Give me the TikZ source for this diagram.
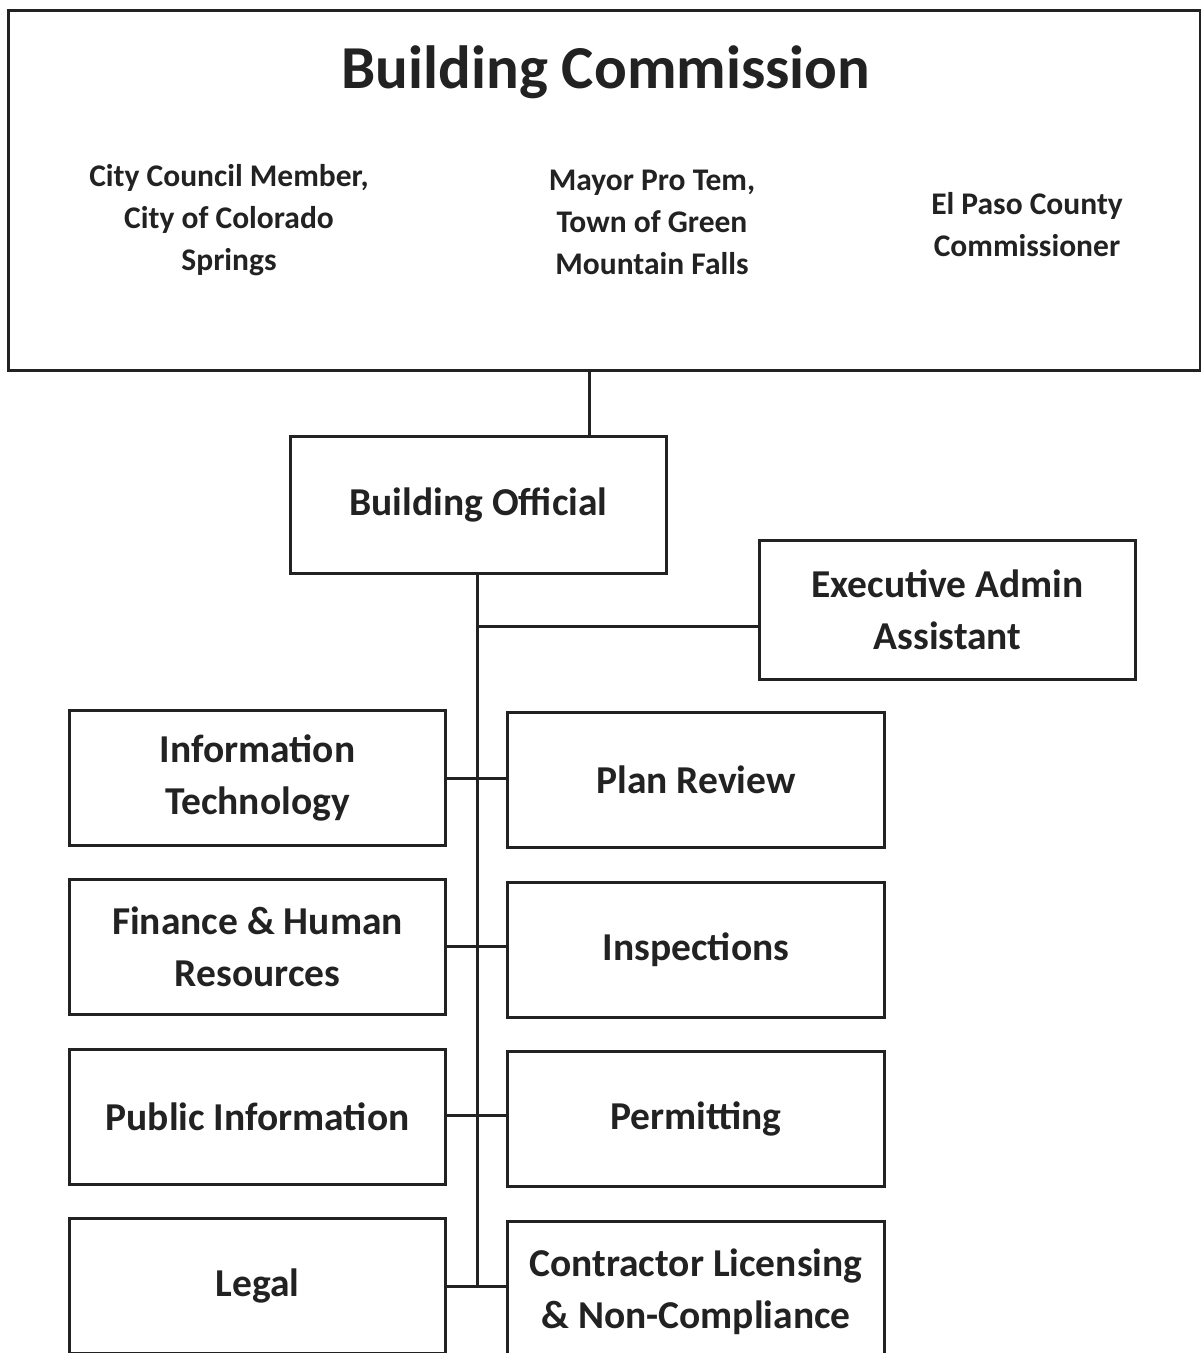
\documentclass[tikz,border=0pt]{standalone}
\usepackage{fontspec}
\setmainfont{Carlito}
\definecolor{ink}{HTML}{222222}
\begin{document}
\begin{tikzpicture}[x=1pt,y=-1pt,
  box/.style={draw=ink,line width=3pt,anchor=north west,inner sep=0pt,align=center,
     font=\bfseries\fontsize{39.5}{52}\selectfont,text=ink},
  lbl/.style={align=center,font=\bfseries\fontsize{31.5}{42}\selectfont,text=ink,inner sep=0pt},
  conn/.style={draw=ink,line width=3pt}]
\useasboundingbox (0,0) rectangle (1201,1353);
\clip (0,0) rectangle (1201,1353);
\fill[white] (0,0) rectangle (1201,1353);
% top box
\node[box,minimum width=1192pt,minimum height=360pt] (bc) at (7,9) {};
\node[font=\bfseries\fontsize{61}{66}\selectfont,text=ink,inner sep=0pt] (title) at (606,72) {Building Commission};
\node[lbl] (m1) at (229,220) {City Council Member,\\City of Colorado\\Springs};
\node[lbl] (m2) at (652,222) {Mayor Pro Tem,\\Town of Green\\Mountain Falls};
\node[lbl] (m3) at (1027,225) {El Paso County\\Commissioner};
% building official
\node[box,minimum width=376pt,minimum height=137pt] (bo) at (289,435) {Building Official};
\node[box,minimum width=376pt,minimum height=139pt] (ea) at (758,539) {Executive Admin\\Assistant};
% left column
\node[box,minimum width=376pt,minimum height=135pt] (it) at (68,709) {Information\\Technology};
\node[box,minimum width=376pt,minimum height=135pt] (fh) at (68,878) {Finance \& Human\\Resources};
\node[box,minimum width=376pt,minimum height=135pt] (pi) at (68,1048) {Public Information};
\node[box,minimum width=376pt,minimum height=135pt] (lg) at (68,1217) {Legal};
% right column
\node[box,minimum width=377pt,minimum height=135pt] (pr) at (506,711) {Plan Review};
\node[box,minimum width=377pt,minimum height=135pt] (in) at (506,881) {Inspections};
\node[box,minimum width=377pt,minimum height=135pt] (pm) at (506,1050) {Permitting};
\node[box,minimum width=377pt,minimum height=140pt] (cl) at (506,1220) {Contractor Licensing\\\& Non-Compliance};
% connectors
\coordinate (t0) at (477,572);
\coordinate (ta) at (477,626);
\coordinate (t1) at (477,778);
\coordinate (t2) at (477,946);
\coordinate (t3) at (477,1115);
\coordinate (t4) at (477,1286);
\draw[conn] (bc.south -| 589,0) -- (bo.north -| 589,0);
\draw[conn] (t0) -- (t4);
\draw[conn] (ta) -- (ta -| ea.west);
\draw[conn] (t1 -| it.east) -- (t1 -| pr.west);
\draw[conn] (t2 -| fh.east) -- (t2 -| in.west);
\draw[conn] (t3 -| pi.east) -- (t3 -| pm.west);
\draw[conn] (t4 -| lg.east) -- (t4 -| cl.west);
\end{tikzpicture}
\end{document}
